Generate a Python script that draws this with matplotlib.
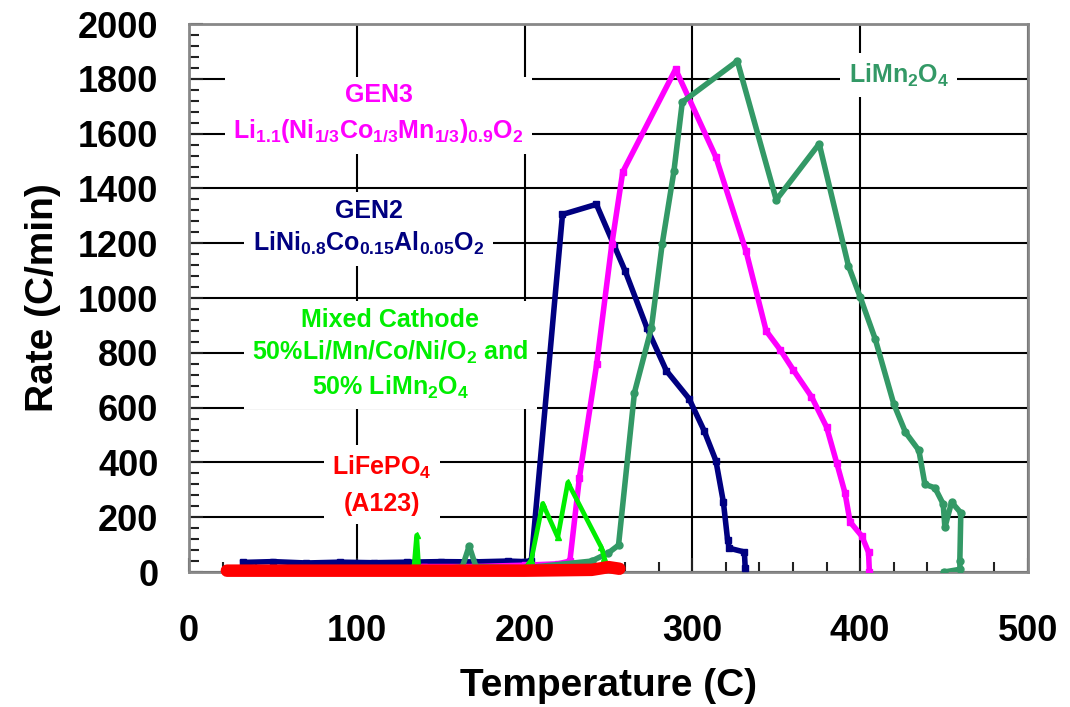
import matplotlib
matplotlib.use("Agg")
import matplotlib.pyplot as plt
from matplotlib.ticker import MultipleLocator

plt.rcParams["font.family"] = ["Liberation Sans", "DejaVu Sans"]
plt.rcParams["mathtext.default"] = "regular"

# --- data ---
gen2_t = [32, 50, 70, 90, 110, 130, 150, 170, 190, 200, 204, 222.6, 242.8, 253.6,
          260, 273, 284.5, 298, 307, 314, 318.5, 321, 322, 331, 331.5]
gen2_r = [35, 38, 33, 36, 34, 36, 38, 37, 40, 38, 40, 1305, 1342, 1189,
          1098, 890, 735, 633, 516, 407, 255, 117, 87, 73, 15]

gen3_t = [140, 170, 200, 220, 227, 232.7, 243, 252, 258.5, 290, 314, 332, 344,
          352.5, 360, 371, 380, 386, 391, 394, 401, 405, 405.5]
gen3_r = [20, 20, 25, 30, 40, 345, 760, 1196, 1460, 1835, 1515, 1171, 880,
          810, 739, 640, 529, 399, 288, 183, 131, 72, 0]

lmo_t = [22, 50, 100, 150, 163, 167, 171, 200, 240, 250, 256, 265.5, 275.6, 282,
         289, 294, 326.8, 350, 375.6, 393, 400, 409, 420, 427, 435, 438.6, 444.6,
         449.5, 450.5, 454.5, 460, 459.4, 459.5, 450]
lmo_r = [5, 5, 5, 10, 20, 95, 20, 15, 40, 70, 98, 655, 891, 1196,
         1462, 1715, 1865, 1358, 1563, 1118, 1004, 850, 614, 510, 444, 320, 307,
         248, 163, 255, 216, 39, 10, 0]

mix_t = [130, 134, 135.7, 137, 140, 200, 204, 210.8, 219.8, 225.8, 245.7, 247.6]
mix_r = [10, 10, 134, 10, 10, 10, 44, 250, 127, 327, 91, 51]

lfp_t = [22.6, 60, 100, 150, 200, 240, 250, 256.5]
lfp_r = [5, 5, 5, 5, 5, 8, 18, 12]

fig = plt.figure(figsize=(10.7, 7.07), dpi=100)
ax = fig.add_axes([0.1766, 0.1909, 0.7841, 0.7751])

ax.plot(gen2_t, gen2_r, color="#000080", lw=4, marker="s", ms=5, zorder=4)
ax.plot(gen3_t, gen3_r, color="#ff00ff", lw=4, marker="s", ms=5, zorder=4)
ax.plot(lmo_t, lmo_r, color="#339966", lw=4, marker="o", ms=5, zorder=4)
ax.plot(mix_t, mix_r, color="#00ee00", lw=3.4, marker="^", ms=4, zorder=5)
ax.plot(lfp_t, lfp_r, color="#ff0000", lw=9, solid_capstyle="round",
        clip_on=False, zorder=6)

ax.set_xlim(0, 500)
ax.set_ylim(0, 2000)
ax.xaxis.set_major_locator(MultipleLocator(100))
ax.xaxis.set_minor_locator(MultipleLocator(20))
ax.yaxis.set_major_locator(MultipleLocator(200))
ax.yaxis.set_minor_locator(MultipleLocator(40))
ax.grid(True, which="major", color="black", lw=1.5, zorder=1)

ax.tick_params(which="both", direction="in", top=False, right=False, color="#222222")
ax.tick_params(which="major", length=10, width=1.5)
ax.tick_params(which="minor", length=7, width=1.5)
ax.tick_params(axis="x", which="major", pad=30, labelsize=26)
ax.tick_params(axis="y", which="major", pad=22, labelsize=26)
for lab in ax.get_xticklabels() + ax.get_yticklabels():
    lab.set_fontweight("bold")
for sp in ax.spines.values():
    sp.set_color("#888888")
    sp.set_linewidth(2)

ax.set_xlabel("Temperature (C)", fontsize=28, fontweight="bold", labelpad=14)
ax.set_ylabel("Rate (C/min)", fontsize=28, fontweight="bold", labelpad=12)

box = dict(facecolor="white", edgecolor="none", pad=6)
kw = dict(ha="center", va="center", fontsize=18, fontweight="bold",
          multialignment="center", bbox=box, zorder=3)
ax.text(113, 1671, "GEN3\nLi$_{1.1}$(Ni$_{1/3}$Co$_{1/3}$Mn$_{1/3}$)$_{0.9}$O$_2$",
        color="#ff00ff", linespacing=1.5, **kw)
ax.text(107, 1255, "GEN2\nLiNi$_{0.8}$Co$_{0.15}$Al$_{0.05}$O$_2$",
        color="#000080", linespacing=1.35, **kw)
ax.text(120, 795, "Mixed Cathode\n50%Li/Mn/Co/Ni/O$_2$ and\n50% LiMn$_2$O$_4$",
        color="#00ee00", linespacing=1.35, **kw)
ax.text(115, 318, "LiFePO$_4$\n(A123)", color="#ff0000", linespacing=1.55, **kw)
ax.text(423, 1814, "LiMn$_2$O$_4$", color="#339966", **kw)

fig.savefig("out.png", dpi=100)
